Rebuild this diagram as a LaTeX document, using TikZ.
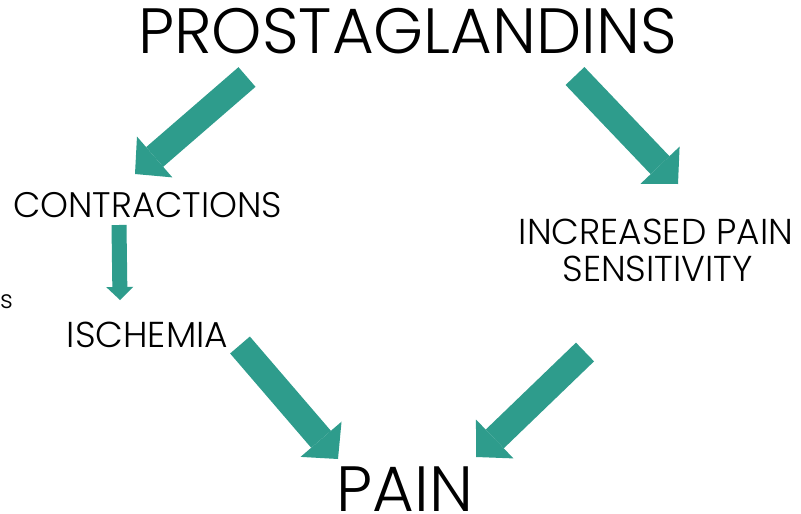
\documentclass[tikz,border=0pt]{standalone}
\usepackage{fontspec}
\setmainfont{Poppins}[UprightFont={* Light}]
\usetikzlibrary{arrows.meta}
\definecolor{painteal}{RGB}{46,156,140}
\tikzset{fat/.style={line width=26pt, draw=painteal, -{Triangle[length=26pt, width=54pt, line width=0pt]}},
  thin/.style={line width=15pt, draw=painteal, -{Triangle[length=13pt, width=27pt, line width=0pt]}},
  lbl/.style={anchor=base, inner sep=0pt, text=black}}

\begin{document}
\begin{tikzpicture}[x=1pt, y=-1pt]
  \useasboundingbox[fill=white] (0,0) rectangle (801,514);
  \node[lbl, font=\fontsize{64}{64}\selectfont] (pg) at (407.5,53) {PROSTAGLANDINS};
  \node[lbl, font=\fontsize{35.5}{36}\selectfont] (con) at (147.5,217) {CONTRACTIONS};
  \node[lbl, font=\fontsize{36}{36}\selectfont] (inc) at (656,244) {INCREASED PAIN};
  \node[lbl, font=\fontsize{36}{36}\selectfont] (sen) at (657.5,281) {SENSITIVITY};
  \node[lbl, font=\fontsize{36}{36}\selectfont] (isc) at (147.5,347) {ISCHEMIA};
  \node[lbl, font=\fontsize{64}{64}\selectfont] (pain) at (405,511) {PAIN};
  \node[lbl, anchor=base west, font=\fontsize{25}{25}\selectfont] (frag) at (0,308) {s};
  % block arrows
  \coordinate (a1s) at (247,77);  \coordinate (a1e) at (135,174);
  \coordinate (a2s) at (575,76);  \coordinate (a2e) at (678,184);
  \coordinate (a3s) at (119,225); \coordinate (a3e) at (120,300);
  \coordinate (a4s) at (240,345); \coordinate (a4e) at (338,459);
  \coordinate (a5s) at (585,352); \coordinate (a5e) at (476,457);
  \draw[fat] (a1s) -- (a1e);
  \draw[fat] (a2s) -- (a2e);
  \draw[thin] (a3s) -- (a3e);
  \draw[fat] (a4s) -- (a4e);
  \draw[fat] (a5s) -- (a5e);
\end{tikzpicture}
\end{document}
